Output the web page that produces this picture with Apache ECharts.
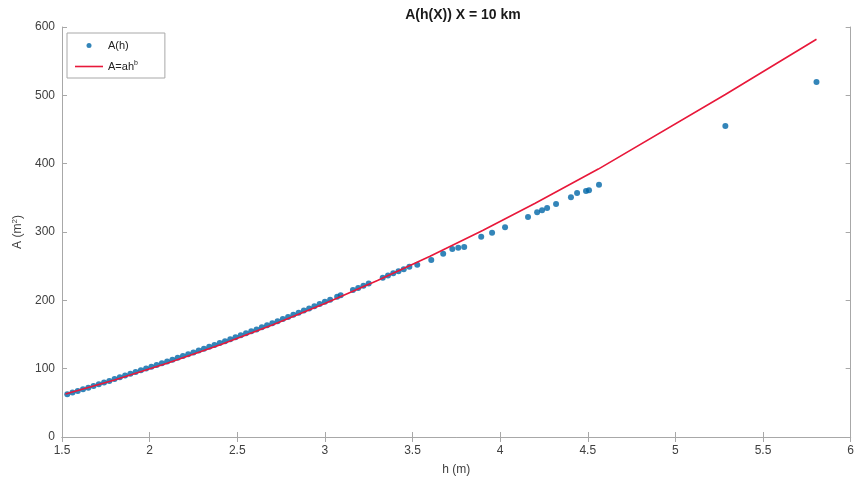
<!DOCTYPE html>
<html>
<head>
<meta charset="utf-8">
<script src="https://cdn.jsdelivr.net/npm/echarts@6/dist/echarts.min.js"></script>
<style>html,body{margin:0;padding:0;background:#fff}#c{width:857px;height:481px}</style>
</head>
<body>
<div id="c"></div>
<script>
// Measured points A(h)
const hObs = [1.53,1.56,1.59,1.62,1.65,1.68,1.71,1.74,1.77,1.80,1.83,1.86,1.89,1.92,1.95,1.98,
  2.01,2.04,2.07,2.10,2.13,2.16,2.19,2.22,2.25,2.28,2.31,2.34,2.37,2.40,2.43,2.46,2.49,
  2.52,2.55,2.58,2.61,2.64,2.67,2.70,2.73,2.76,2.79,2.82,2.85,2.88,2.91,2.94,2.97,3.00,
  3.03,3.07,3.09,3.16,3.19,3.22,3.25,3.33,3.36,3.39,3.42,3.45,
  3.482,3.527,3.607,3.675,3.727,3.761,3.795,3.892,3.954,4.028,4.159,4.211,4.239,4.268,
  4.319,4.404,4.439,4.490,4.507,4.564,5.285,5.805];
const aObs = [62.7,65.0,67.3,69.7,72.1,74.6,77.1,79.6,82.1,84.7,87.3,89.9,92.5,95.1,97.7,100.3,
  102.9,105.4,108.0,110.6,113.2,115.8,118.4,121.1,123.8,126.5,129.2,131.9,134.6,137.4,140.2,143.0,145.9,
  148.8,151.7,154.6,157.5,160.5,163.5,166.5,169.5,172.6,175.7,178.8,181.9,185.0,188.2,191.4,194.6,197.8,
  201.0,205.2,207.4,215.0,218.2,221.5,224.8,233.2,236.4,239.6,242.5,245.5,
  249,252,259,268,275,277,278,293,299,307,322,329,332,335,
  341,351,357,360,361,369,455,519.5];
// Fitted curve A = a h^b
const hFit = [1.52,1.8,2.1,2.4,2.7,3.0,3.3,3.6,3.9,4.2,4.56,5.285,5.805];
const aFit = [63.0,83.5,107.9,134.8,164.0,195.4,229.0,264.6,302.3,342.0,392.1,501.3,582];
// Ticks
const xTicks = [1.5,2,2.5,3,3.5,4,4.5,5,5.5,6];
const yTicks = [0,100,200,300,400,500,600];

const FONT = '"Liberation Sans", Arial, Helvetica, sans-serif';
const axisCol = '#a8a8a8';
const txtCol = '#404040';
const blue = '#0066a8';
const red = '#e8183a';

const chart = echarts.init(document.getElementById('c'), null, {renderer:'canvas'});
const frameAxis = (extra) => Object.assign({
  type:'value', axisLine:{show:true, lineStyle:{color:axisCol, width:1}},
  axisTick:{show:true, inside:true, length:5, lineStyle:{color:axisCol}},
  splitLine:{show:false}
}, extra);

chart.setOption({
  animation:false,
  backgroundColor:'#fff',
  title:{
    text:'A(h(X)) X = 10 km', left:458, top:3, textAlign:'center',
    textStyle:{fontFamily:FONT, fontSize:14, fontWeight:'bold', color:'#1a1a1a'}
  },
  grid:{left:62, right:5, top:27, bottom:44, containLabel:false},
  legend:{
    orient:'vertical', left:67, top:33, itemWidth:28, itemHeight:5, itemGap:9,
    backgroundColor:'#fff', borderColor:'#a8a8a8', borderWidth:1, padding:[7,27,6,8],
    textStyle:{fontFamily:FONT, fontSize:11, color:'#222',
      rich:{sup:{fontSize:7, verticalAlign:'top', padding:[0,0,6,0], fontFamily:FONT, color:'#222'}}},
    formatter:(n)=> n==='A=ah^b' ? 'A=ah{sup|b}' : n,
    data:[
      {name:'A(h)', icon:'circle', itemStyle:{color:blue}},
      {name:'A=ah^b', icon:'path://M0,0H28V1.6H0Z', itemStyle:{color:red}}
    ]
  },
  xAxis:[
    frameAxis({min:1.5, max:6, interval:0.5, position:'bottom',
      axisLabel:{color:txtCol, fontFamily:FONT, fontSize:12, margin:8,
        formatter:(v)=> xTicks.includes(+v.toFixed(2)) ? String(v) : ''},
      name:'h (m)', nameLocation:'middle', nameGap:27,
      nameTextStyle:{color:txtCol, fontFamily:FONT, fontSize:12}}),
    frameAxis({min:1.5, max:6, interval:0.5, position:'top', axisLabel:{show:false}})
  ],
  yAxis:[
    frameAxis({min:0, max:600, interval:100, position:'left',
      axisLabel:{color:txtCol, fontFamily:FONT, fontSize:12, margin:7,
        formatter:(v)=> yTicks.includes(v) ? String(v) : ''},
      name:'A (m{sup|2})', nameLocation:'middle', nameGap:31, nameRotate:90,
      nameTextStyle:{color:txtCol, fontFamily:FONT, fontSize:12,
        rich:{sup:{fontSize:8, verticalAlign:'top', padding:[0,0,6,0], color:txtCol, fontFamily:FONT}}}}),
    frameAxis({min:0, max:600, interval:100, position:'right', axisLabel:{show:false}})
  ],
  series:[
    {
      name:'A(h)', type:'scatter', symbol:'circle', symbolSize:6,
      itemStyle:{color:blue},
      data: hObs.map((h,i)=>[h,aObs[i]]), z:2
    },
    {
      name:'A=ah^b', type:'line', showSymbol:false, symbol:'none', smooth:false,
      lineStyle:{color:red, width:1.6}, itemStyle:{color:red},
      data: hFit.map((h,i)=>[h,aFit[i]]), z:3
    }
  ]
});
</script>
</body>
</html>
